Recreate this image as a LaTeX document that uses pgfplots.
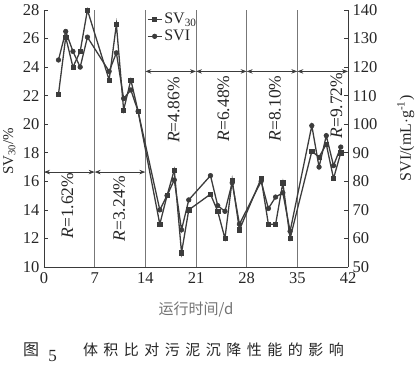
\documentclass[border=0pt]{standalone}
\usepackage{fontspec}
\setmainfont{Liberation Serif}
\newfontfamily\cjk{Noto Sans CJK SC}
\usepackage{pgfplots}
\pgfplotsset{compat=1.18}
\usetikzlibrary{arrows.meta}
\definecolor{dline}{HTML}{3C3C3C}
\definecolor{gline}{HTML}{777777}
\definecolor{axc}{HTML}{3A3A3A}

\pgfplotstableread{
d sv
2 22.1
3 26.1
4 24.0
5 25.1
6 28.0
9 23.1
10 27.0
11 21.0
12 23.1
13 20.9
16 13.0
17 15.0
18 16.8
19 11.0
20 14.0
23 15.1
24 13.9
25 12.0
26 16.1
27 12.6
30 16.2
31 13.0
32 13.0
33 15.9
34 12.0
37 18.1
38 17.7
39 18.6
40 16.2
41 18.0
}\svtab

\pgfplotstableread{
d svi
2 122.5
3 132.5
4 125.5
5 120
6 130.5
9 118.5
10 125
11 109
12 112
13 104.5
16 70
17 75
18 80.5
19 63
20 73.5
23 82
24 71.5
25 69.5
26 79.5
27 65
30 80
31 70.5
32 74.5
33 76
34 62.5
37 99.5
38 85
39 96
40 85.5
41 92
}\svitab

\tikzset{
  svstyle/.style={dline, line width=1.3pt, mark=square*, mark size=2.1pt, mark options={fill=dline, solid, line width=0.6pt}},
  svistyle/.style={dline, line width=1.3pt, mark=*, mark size=2.3pt, mark options={fill=dline, solid, line width=0.6pt}},
  arr/.style={dline, line width=0.8pt, {Stealth[length=6pt,width=4.5pt]}-{Stealth[length=6pt,width=4.5pt]}},
  rlab/.style={rotate=90, font=\fontsize{17.5}{17.5}\selectfont, text=black!85},
}
\pgfplotsset{
  common/.style={
    at={(0,0)}, anchor=south west,
    scale only axis, width=304pt, height=257pt,
    xmin=0, xmax=42,
    tick align=inside, major tick length=4pt,
    tick style={axc, line width=0.7pt},
    axis line style={axc, line width=0.9pt},
    tick label style={font=\fontsize{16.5}{16.5}\selectfont, text=black!85},
    /pgf/number format/assume math mode=true,
    label style={font=\fontsize{16}{16}\selectfont, text=black!85},
  },
}

\begin{document}
\begin{tikzpicture}[x=1pt,y=1pt]
\useasboundingbox (-44,-108) rectangle (373,267);
\begin{axis}[common,
  ymin=10, ymax=28,
  axis y line*=left, axis x line*=bottom,
  xtick={0,7,...,42}, ytick={10,12,...,28},
  xticklabel style={yshift=-2pt},
  yticklabel style={xshift=-1pt},
  ylabel={SV\textsubscript{30}/\%},
  ylabel style={at={(axis description cs:-0.114,0.45)}, anchor=center, rotate=0, font=\fontsize{15}{15}\selectfont},
  xlabel={\cjk 运行时间/d},
  xlabel style={at={(axis description cs:0.5,-0.167)}, anchor=center, text=black!55, font=\fontsize{15}{15}\selectfont},
  clip=false,
]
\draw[gline, line width=0.6pt] (axis cs:7,10) -- (axis cs:7,28);
\draw[gline, line width=0.6pt] (axis cs:14,10) -- (axis cs:14,28);
\draw[gline, line width=0.6pt] (axis cs:21,10) -- (axis cs:21,28);
\draw[gline, line width=0.6pt] (axis cs:28,10) -- (axis cs:28,28);
\draw[gline, line width=0.6pt] (axis cs:35,10) -- (axis cs:35,28);
\draw[arr] (axis cs:0,16.65) -- (axis cs:7,16.65);
\draw[arr] (axis cs:7,16.65) -- (axis cs:14,16.65);
\draw[arr] (axis cs:14,23.7) -- (axis cs:21,23.7);
\draw[arr] (axis cs:21,23.7) -- (axis cs:28,23.7);
\draw[arr] (axis cs:28,23.7) -- (axis cs:35,23.7);
\draw[arr] (axis cs:35,23.7) -- (axis cs:42,23.7);
\node[rlab] at (axis cs:3.25,14.3) {\textit{R}=1.62\%};
\node[rlab] at (axis cs:10.4,14.1) {\textit{R}=3.24\%};
\node[rlab] at (axis cs:17.9,21.0) {\textit{R}=4.86\%};
\node[rlab] at (axis cs:24.8,21.1) {\textit{R}=6.48\%};
\node[rlab] at (axis cs:31.9,21.1) {\textit{R}=8.10\%};
\node[rlab] at (axis cs:40.4,21.3) {\textit{R}=9.72\%};
\addplot[svstyle] table[x=d, y=sv] {\svtab};
\end{axis}
\begin{axis}[common,
  ymin=50, ymax=140,
  axis y line*=right, axis x line=none,
  ytick={50,60,...,140},
  yticklabel style={xshift=1pt},
  ylabel={SVI/(mL$\cdot$g\textsuperscript{-1})},
  ylabel style={at={(axis description cs:1.19,0.5)}, anchor=center, rotate=0},
  legend style={at={(axis description cs:0.335,1.0)}, anchor=north west, draw=none, fill=none,
    font=\fontsize{16}{16}\selectfont, text=black!85, inner sep=1pt, row sep=1pt},
  legend cell align=left,
  legend image code/.code={\draw[mark repeat=2, mark phase=2, #1] plot coordinates {(0pt,0pt) (7pt,0pt) (14pt,0pt)};},
]
\addlegendimage{svstyle}
\addlegendentry{SV\textsubscript{30}}
\addplot[svistyle] table[x=d, y=svi] {\svitab};
\addlegendentry{SVI}
\end{axis}
\node[font=\cjk\fontsize{16}{16}\selectfont, text=black!85] at (-13,-83) {图};
\node[font=\fontsize{17}{17}\selectfont, text=black!85] at (8.5,-89) {5};
\node[font=\cjk\fontsize{15}{15}\selectfont, text=black!85] at (169.5,-83) {体\hspace{5.5pt}积\hspace{5.5pt}比\hspace{5.5pt}对\hspace{5.5pt}污\hspace{5.5pt}泥\hspace{5.5pt}沉\hspace{5.5pt}降\hspace{5.5pt}性\hspace{5.5pt}能\hspace{5.5pt}的\hspace{5.5pt}影\hspace{5.5pt}响};
\end{tikzpicture}
\end{document}
